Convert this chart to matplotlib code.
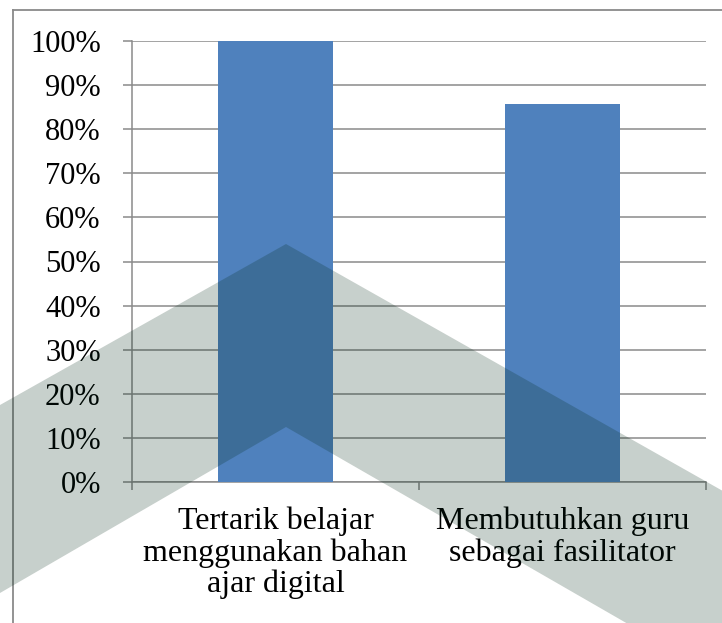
import matplotlib
matplotlib.use("Agg")
import matplotlib.pyplot as plt
from matplotlib.patches import Polygon
from matplotlib.lines import Line2D

categories = ["Tertarik belajar\nmenggunakan bahan\najar digital",
              "Membutuhkan guru\nsebagai fasilitator"]
values = [1.00, 0.857]
yticks = [0.0, 0.1, 0.2, 0.3, 0.4, 0.5, 0.6, 0.7, 0.8, 0.9, 1.0]
ytick_labels = ["0%", "10%", "20%", "30%", "40%", "50%", "60%", "70%", "80%", "90%", "100%"]

W, H = 722, 623
plt.rcParams['font.family'] = ['Liberation Serif', 'DejaVu Serif']
grey = '#8a8a8a'
bar_col = '#4f81bd'

fig = plt.figure(figsize=(W / 100, H / 100), dpi=100)
ax = fig.add_axes([132 / W, 1 - 482 / H, (706 - 132) / W, (482 - 41) / H])

x = list(range(len(categories)))
ax.bar(x, values, width=0.4, color=bar_col, zorder=3)

ax.set_xlim(-0.5, len(categories) - 0.5)
ax.set_ylim(0, 1)
ax.set_yticks(yticks)
ax.set_yticklabels(ytick_labels, fontsize=22)
ax.yaxis.grid(True, color=grey, linewidth=1.1, zorder=0)
ax.set_axisbelow(True)

# category boundaries get the ticks, labels sit in the middle
ax.set_xticks([i - 0.5 for i in range(len(categories) + 1)])
ax.set_xticklabels([])
ax.set_xticks(x, minor=True)
ax.set_xticklabels(categories, minor=True, fontsize=23, linespacing=1.08)
ax.tick_params(axis='x', which='minor', length=0, pad=18)
ax.tick_params(axis='x', which='major', length=6, width=1.1, color=grey, direction='out')
ax.tick_params(axis='y', length=6.5, width=1.1, color=grey, pad=16, labelcolor='black')

for s in ['top', 'right']:
    ax.spines[s].set_visible(False)
for s in ['left', 'bottom']:
    ax.spines[s].set_color(grey)
    ax.spines[s].set_linewidth(1.1)

# outer chart frame (right and bottom run off the image)
fig.add_artist(Line2D([13 / W, 1.0], [1 - 10 / H, 1 - 10 / H], color=grey, lw=1.3))
fig.add_artist(Line2D([13 / W, 13 / W], [1 - 10 / H, 0.0], color=grey, lw=1.3))

# watermark chevron over the whole chart
pts = [(0, 405), (286, 244), (760, 512), (760, 700), (286, 427), (0, 593)]
wm = Polygon([(px / W, 1 - py / H) for px, py in pts], closed=True,
             transform=fig.transFigure, facecolor='#002917', alpha=0.22,
             edgecolor='none', zorder=10)
fig.add_artist(wm)

fig.savefig("out.png", dpi=100)
